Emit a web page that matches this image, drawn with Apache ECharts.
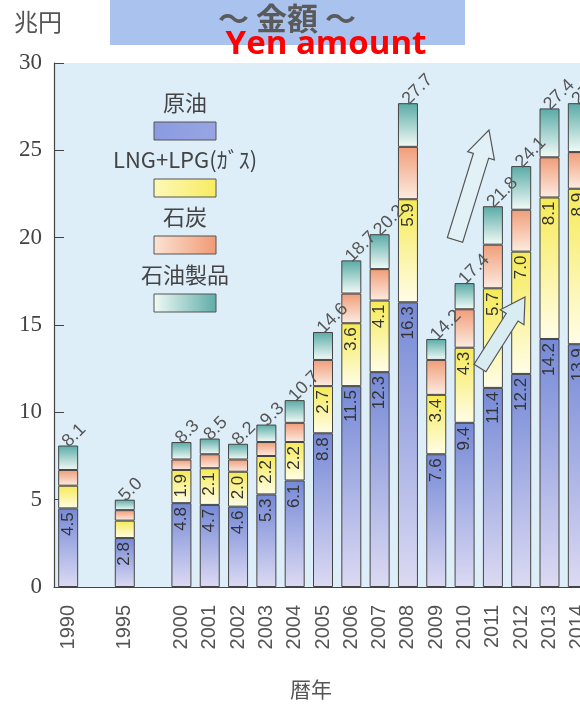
<!DOCTYPE html>
<html><head><meta charset="utf-8">
<script src="https://cdn.jsdelivr.net/npm/echarts@6/dist/echarts.min.js"></script>
<style>html,body{margin:0;padding:0;background:#fff}#c{width:580px;height:705px}</style>
</head><body><div id="c"></div>
<script>
// Categories (blank slots keep the 1990 / 1995 / 2000 spacing of the original)
const years = ['1990','','1995','','2000','2001','2002','2003','2004','2005','2006','2007','2008','2009','2010','2011','2012','2013','2014'];
// 兆円
const crudeOil = [4.5,null,2.8,null,4.8,4.7,4.6,5.3,6.1,8.8,11.5,12.3,16.3,7.6,9.4,11.4,12.2,14.2,13.9];
const lngLpg   = [1.3,null,1.0,null,1.9,2.1,2.0,2.2,2.2,2.7,3.6,4.1,5.9,3.4,4.3,5.7,7.0,8.1,8.9];
const coal     = [0.9,null,0.6,null,0.6,0.8,0.7,0.8,1.1,1.5,1.7,1.8,3.0,2.0,2.2,2.5,2.4,2.3,2.1];
const products = [1.4,null,0.6,null,1.0,0.9,0.9,1.0,1.3,1.6,1.9,2.0,2.5,1.2,1.5,2.2,2.5,2.8,2.8];
const totals   = [8.1,null,5.0,null,8.3,8.5,8.2,9.3,10.7,14.6,18.7,20.2,27.7,14.2,17.4,21.8,24.1,27.4,27.7];
const seriesNames = ['原油','LNG+LPG(ｶﾞｽ)','石炭','石油製品'];
const yTicks = [0,5,10,15,20,25,30];

const G = echarts.graphic.LinearGradient;
const vgrad = (top, bottom) => new G(0,0,0,1,[{offset:0,color:top},{offset:1,color:bottom}]);
const hgrad = (l, r) => new G(0,0,1,0,[{offset:0,color:l},{offset:1,color:r}]);
const barColors = [
  vgrad('#7589d6','#dcdaf3'),
  vgrad('#f6ea55','#fffde8'),
  vgrad('#f09d78','#fcece2'),
  vgrad('#58aaa6','#f3fbf7')
];
const legendColors = [
  hgrad('#8b9be0','#97a6e2'),
  hgrad('#fdf8b8','#f7ec60'),
  hgrad('#fbe3d4','#f09a74'),
  hgrad('#f2faf6','#5eaca8')
];

const chart = echarts.init(document.getElementById('c'));
const border = {borderColor:'#444', borderWidth:1};
const insideLabel = (fmt) => ({
  show:true, position:'insideTop', distance:4, rotate:90, align:'right', verticalAlign:'middle',
  fontFamily:'Liberation Sans', fontSize:17, color:'#333', formatter: fmt
});

function arrowPts(x0,y0,x1,y1,sw,hw,hl){
  const dx=x1-x0, dy=y1-y0, L=Math.hypot(dx,dy), ux=dx/L, uy=dy/L, nx=-uy, ny=ux;
  const bx=x1-ux*hl, by=y1-uy*hl;
  return [[x0+nx*sw,y0+ny*sw],[bx+nx*sw,by+ny*sw],[bx+nx*hw,by+ny*hw],[x1,y1],
          [bx-nx*hw,by-ny*hw],[bx-nx*sw,by-ny*sw],[x0-nx*sw,y0-ny*sw]];
}

const legendGraphics = [];
const legendY = [103,160,217,275];
seriesNames.forEach((n,i)=>{
  legendGraphics.push({type:'text', z:10,
    style:{text:n, x:185, y:legendY[i], align:'center', verticalAlign:'middle',
      font:'22px "Noto Sans CJK JP"', fill:'#444'}});
  legendGraphics.push({type:'rect', z:10,
    shape:{x:154, y:legendY[i]+19, width:62, height:18},
    style:{fill:legendColors[i], stroke:'#555', lineWidth:1}});
});

chart.setOption({
  animation:false,
  grid:{left:54, top:63, width:538, height:524, outerBoundsMode:'none', containLabel:false,
    show:true, backgroundColor:'#deeef9', borderWidth:0},
  xAxis:{type:'category', data:years,
    axisLine:{lineStyle:{color:'#444', width:1.2}}, axisTick:{show:false},
    axisLabel:{interval:0, rotate:90, fontFamily:'Liberation Sans', fontSize:20, color:'#555', margin:18},
    name:'暦年', nameLocation:'middle', nameGap:92,
    nameTextStyle:{fontFamily:'Noto Sans CJK JP', fontSize:21, color:'#555', padding:[0,24,0,0]}},
  yAxis:{type:'value', min:0, max:30, interval:5,
    axisLine:{show:true, lineStyle:{color:'#444', width:1.2}},
    axisTick:{show:true, inside:true, length:10, lineStyle:{color:'#444'}},
    splitLine:{show:false},
    axisLabel:{fontFamily:'Liberation Serif', fontSize:23, color:'#444', margin:12,
      formatter:v=> yTicks.includes(v)? String(v):''}},
  series:[
    {name:seriesNames[0], type:'bar', stack:'a', barWidth:20, data:crudeOil,
      itemStyle:Object.assign({color:barColors[0]},border),
      label:insideLabel(p=>p.value==null?'':p.value.toFixed(1))},
    {name:seriesNames[1], type:'bar', stack:'a', barWidth:20, data:lngLpg,
      itemStyle:Object.assign({color:barColors[1]},border),
      label:insideLabel(p=>(p.value==null||p.dataIndex<4)?'':p.value.toFixed(1))},
    {name:seriesNames[2], type:'bar', stack:'a', barWidth:20, data:coal,
      itemStyle:Object.assign({color:barColors[2]},border)},
    {name:seriesNames[3], type:'bar', stack:'a', barWidth:20, data:products,
      itemStyle:Object.assign({color:barColors[3]},border),
      label:{show:true, position:'top', distance:4, rotate:45, align:'left', verticalAlign:'middle',
        offset:[-4,0], fontFamily:'Liberation Sans', fontSize:18, color:'#555',
        formatter:p=> totals[p.dataIndex]==null?'':totals[p.dataIndex].toFixed(1)}}
  ],
  graphic:[
    {type:'rect', shape:{x:110,y:0,width:355,height:45}, style:{fill:'#a9c3ee'}, z:5},
    {type:'text', style:{text:'～ 金額 ～', x:287, y:18, align:'center', verticalAlign:'middle',
      font:'bold 31px "Noto Sans CJK JP"', fill:'#5a5a5a'}, z:6},
    {type:'text', style:{text:'Yen amount', x:326, y:45, align:'center', verticalAlign:'middle',
      font:'bold 33px "Open Sans"', fill:'#ff0000'}, z:7},
    {type:'text', style:{text:'兆円', x:38, y:22, align:'center', verticalAlign:'middle',
      font:'24px "Noto Sans CJK JP"', fill:'#555'}, z:6},
    {type:'polygon', shape:{points:arrowPts(455,240,489,130,8,14,27)},
      style:{fill:'#e2f1f5', stroke:'#555', lineWidth:1.2}, z:8},
    {type:'polygon', shape:{points:arrowPts(480,368,525,297,7,14,24)},
      style:{fill:'#d9ecf2', stroke:'#555', lineWidth:1.2}, z:8}
  ].concat(legendGraphics)
});
</script></body></html>
